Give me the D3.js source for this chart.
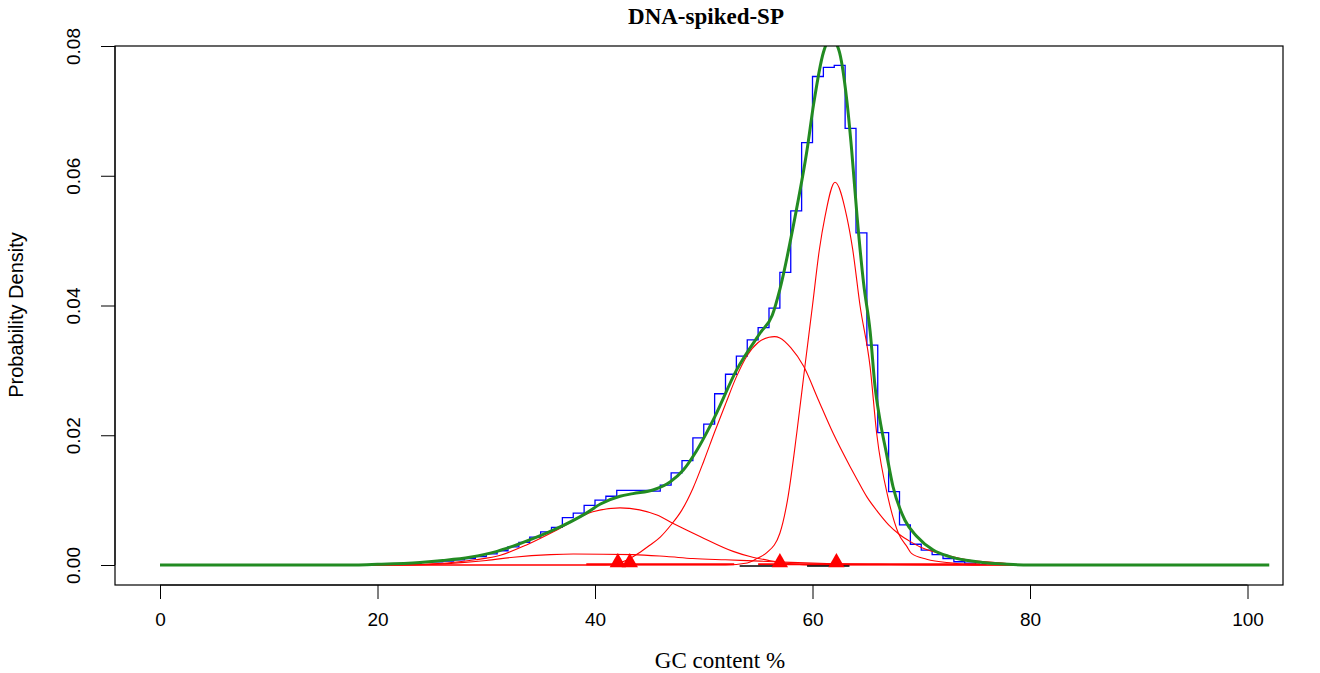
<!DOCTYPE html>
<html>
<head>
<meta charset="utf-8">
<script src="https://cdn.jsdelivr.net/npm/d3@7"></script>
<style>
  body { margin: 0; background: #fff; }
  .tick text { font-family: "Liberation Sans", Arial, sans-serif; font-size: 19px; fill: #000; }
  .tick line, .domain { stroke: #000; }
</style>
</head>
<body>
<div id="chart"></div>
<script>
// histogram bins (left edge, density)
const histEdges = [22, 23, 24, 25, 26, 27, 28, 29, 30, 31, 32, 33, 34, 35, 36, 37, 38, 39, 40, 41,
    42, 43, 44, 45, 46, 47, 48, 49, 50, 51, 52, 53, 54, 55, 56, 57, 58, 59, 60, 61,
    62, 63, 64, 65, 66, 67, 68, 69, 70, 71, 72, 73, 74, 75, 76];
const histDensity = [0.0001, 0.0002, 0.0004, 0.0005, 0.0006, 0.0008, 0.0010, 0.0013, 0.0017, 0.0022,
    0.0028, 0.0035, 0.0043, 0.0051, 0.0058, 0.0073, 0.0080, 0.0092, 0.0100, 0.0106,
    0.0115, 0.0115, 0.0115, 0.0114, 0.0123, 0.0142, 0.0161, 0.0196, 0.0217, 0.0264,
    0.0294, 0.0322, 0.0347, 0.0366, 0.0396, 0.0451, 0.0546, 0.0651, 0.0753, 0.0767,
    0.0770, 0.0673, 0.0512, 0.0339, 0.0204, 0.0113, 0.0062, 0.0032, 0.0023, 0.0016,
    0.0010, 0.0005, 0.0003, 0.0001, 0.0001];

// fitted mixture (green)
const fitGC = [0, 18, 20, 23.9, 26, 28.5, 31, 33.1, 36.2, 39.2, 40.5, 42.3, 43.5, 45.4, 46.9, 48.1,
    49.3, 51, 53, 55.2, 56.3, 57, 58.4, 59.5, 60.1, 61, 61.7, 62.4, 63.15, 63.6, 64.1, 64.7,
    65.3, 65.75, 66.2, 66.8, 67.4, 68.5, 69.6, 71.1, 72.6, 75.1, 78, 80, 102];
const fitDensity = [0, 0, 0.0001, 0.0004, 0.0007, 0.0012, 0.0021, 0.0033, 0.0054, 0.0080, 0.0094,
    0.0106, 0.0110, 0.0116, 0.0128, 0.0146, 0.0175, 0.0228, 0.0300, 0.0358, 0.0385, 0.0425,
    0.0537, 0.0640, 0.0710, 0.0790, 0.0812, 0.0795, 0.0717, 0.0640, 0.0537, 0.0434, 0.0360,
    0.0275, 0.0224, 0.0172, 0.0121, 0.0069, 0.0044, 0.0023, 0.0013, 0.0005, 0.0001, 0, 0];

// mixture components (red)
const compAGC = [18.4, 22, 24, 26.4, 29, 31.3, 33.7, 36.5, 39.8, 42.3, 44.1, 45.7, 47.2, 49.66,
    52.7, 54.25, 56, 58, 60, 78.8];
const compADensity = [0, 0, 0.0001, 0.0003, 0.0008, 0.0015, 0.0031, 0.0054, 0.0082, 0.0088,
    0.0085, 0.0077, 0.0064, 0.0044, 0.0021, 0.0013, 0.0007, 0.0002, 0, 0];
const compBGC = [18.4, 22, 25, 28, 30, 32.5, 35.9, 38, 43.5, 46.6, 49, 52, 55.2, 58, 62, 66, 72, 78.8];
const compBDensity = [0, 0, 0.0001, 0.0004, 0.0007, 0.0012, 0.0016, 0.0017, 0.0016, 0.0013,
    0.0010, 0.0008, 0.0006, 0.0004, 0.0002, 0.0001, 0, 0];
const compCGC = [18.4, 41, 43, 44, 45, 46, 47, 48, 49, 50, 51, 52, 53, 54, 55, 56, 56.5, 57, 58,
    59.2, 60.5, 61.9, 63.45, 64, 65, 66, 67, 68, 69, 70, 71.7, 74.2, 78, 78.8];
const compCDensity = [0, 0, 0.0008, 0.0018, 0.0030, 0.0043, 0.0062, 0.0085, 0.0118, 0.0160,
    0.0205, 0.0248, 0.0290, 0.0323, 0.0343, 0.0351, 0.0352, 0.0350, 0.0335, 0.0306, 0.0256,
    0.0203, 0.0152, 0.0135, 0.0105, 0.0082, 0.0062, 0.0047, 0.0036, 0.0027, 0.0018, 0.0008,
    0.0002, 0];
const compDGC = [18.4, 52, 54, 55, 55.8, 57, 57.7, 58.55, 59.3, 60, 60.63, 61.15, 62.07, 63.15,
    63.7, 64.37, 65.3, 65.9, 67, 67.9, 68.7, 69.1, 70.5, 72.9, 75, 78.8];
const compDDensity = [0, 0, 0.0003, 0.0011, 0.0019, 0.0049, 0.0100, 0.0203, 0.0306, 0.0400,
    0.0486, 0.0537, 0.0590, 0.0537, 0.0486, 0.0400, 0.0305, 0.0203, 0.0100, 0.0049, 0.0028,
    0.0018, 0.0009, 0.0003, 0, 0];

const componentMeans = [42.1, 43.2, 57.0, 62.2];
const redIntervals = [[39.2, 52.8], [55.0, 75.4]];
const blackIntervals = [[53.3, 57.0], [59.5, 63.4]];

const xTicks = [0, 20, 40, 60, 80, 100];
const yTicks = [0, 0.02, 0.04, 0.06, 0.08];

const W = 1320, H = 673;
const box = { left: 115, right: 1283, top: 46, bottom: 585 };

const x = d3.scaleLinear().domain([0, 100]).range([160, 1247.5]);
const y = d3.scaleLinear().domain([0, 0.08]).range([565, 46]);

const svg = d3.select("#chart").append("svg")
    .attr("width", W)
    .attr("height", H)
    .style("display", "block");

svg.append("defs").append("clipPath").attr("id", "plotClip")
    .append("rect")
    .attr("x", box.left).attr("y", box.top)
    .attr("width", box.right - box.left).attr("height", box.bottom - box.top);

const plot = svg.append("g").attr("clip-path", "url(#plotClip)");

const zip = (xs, ys) => xs.map((v, i) => [v, ys[i]]);

// histogram outline
const histPts = zip(histEdges, histDensity);
const step = d3.line()
    .curve(d3.curveStepAfter)
    .x(d => x(d[0]))
    .y(d => y(d[1]));
plot.append("path")
    .attr("d", step(histPts))
    .attr("fill", "none")
    .attr("stroke", "#0000ff")
    .attr("stroke-width", 1.3);

// components
const smooth = d3.line()
    .curve(d3.curveMonotoneX)
    .x(d => x(d[0]))
    .y(d => y(d[1]));

[[compAGC, compADensity], [compBGC, compBDensity], [compCGC, compCDensity], [compDGC, compDDensity]]
    .forEach(c => {
        plot.append("path")
            .attr("d", smooth(zip(c[0], c[1])))
            .attr("fill", "none")
            .attr("stroke", "#ff0000")
            .attr("stroke-width", 1.1);
    });

// intervals on the baseline
plot.selectAll(".redint").data(redIntervals).enter().append("line")
    .attr("x1", d => x(d[0])).attr("x2", d => x(d[1]))
    .attr("y1", y(0) - 0.8).attr("y2", y(0) - 0.8)
    .attr("stroke", "#ff0000").attr("stroke-width", 2);
plot.selectAll(".blackint").data(blackIntervals).enter().append("line")
    .attr("x1", d => x(d[0])).attr("x2", d => x(d[1]))
    .attr("y1", y(0) + 1).attr("y2", y(0) + 1)
    .attr("stroke", "#000").attr("stroke-width", 1.6);

// component means
plot.selectAll(".mean").data(componentMeans).enter().append("path")
    .attr("d", d3.symbol().type(d3.symbolTriangle).size(115))
    .attr("transform", d => "translate(" + x(d) + "," + (y(0) - 2.5) + ")")
    .attr("fill", "#ff0000");

// fitted density
plot.append("path")
    .attr("d", smooth(zip(fitGC, fitDensity)))
    .attr("fill", "none")
    .attr("stroke", "#228b22")
    .attr("stroke-width", 3);

// box
svg.append("rect")
    .attr("x", box.left).attr("y", box.top)
    .attr("width", box.right - box.left).attr("height", box.bottom - box.top)
    .attr("fill", "none").attr("stroke", "#000").attr("stroke-width", 1.2);

// axes
const xAxis = d3.axisBottom(x).tickValues(xTicks).tickSize(14).tickPadding(14).tickFormat(d3.format("d"));
svg.append("g")
    .attr("transform", "translate(0," + box.bottom + ")")
    .call(xAxis)
    .call(g => g.select(".domain").attr("d", "M" + x(0) + ",0H" + x(100)));

const yAxis = d3.axisLeft(y).tickValues(yTicks).tickSize(14).tickFormat(d3.format(".2f"));
const gy = svg.append("g")
    .attr("transform", "translate(" + box.left + ",0)")
    .call(yAxis)
    .call(g => g.select(".domain").attr("d", "M0," + y(0) + "V" + y(0.08)));
gy.selectAll(".tick text")
    .attr("x", null).attr("dy", null)
    .attr("text-anchor", "middle")
    .attr("transform", "translate(-42,0) rotate(-90)")
    .attr("dominant-baseline", "central");

// titles
svg.append("text")
    .attr("x", 706).attr("y", 24)
    .attr("text-anchor", "middle")
    .style("font-family", "'Liberation Serif', 'Times New Roman', serif")
    .style("font-weight", "bold")
    .style("font-size", "23px")
    .text("DNA-spiked-SP");

svg.append("text")
    .attr("x", 720).attr("y", 668)
    .attr("text-anchor", "middle")
    .style("font-family", "'Liberation Serif', 'Times New Roman', serif")
    .style("font-size", "23px")
    .text("GC content %");

svg.append("text")
    .attr("transform", "translate(23,315) rotate(-90)")
    .attr("text-anchor", "middle")
    .style("font-family", "'Liberation Sans', Arial, sans-serif")
    .style("font-size", "20px")
    .text("Probability Density");
</script>
</body>
</html>
